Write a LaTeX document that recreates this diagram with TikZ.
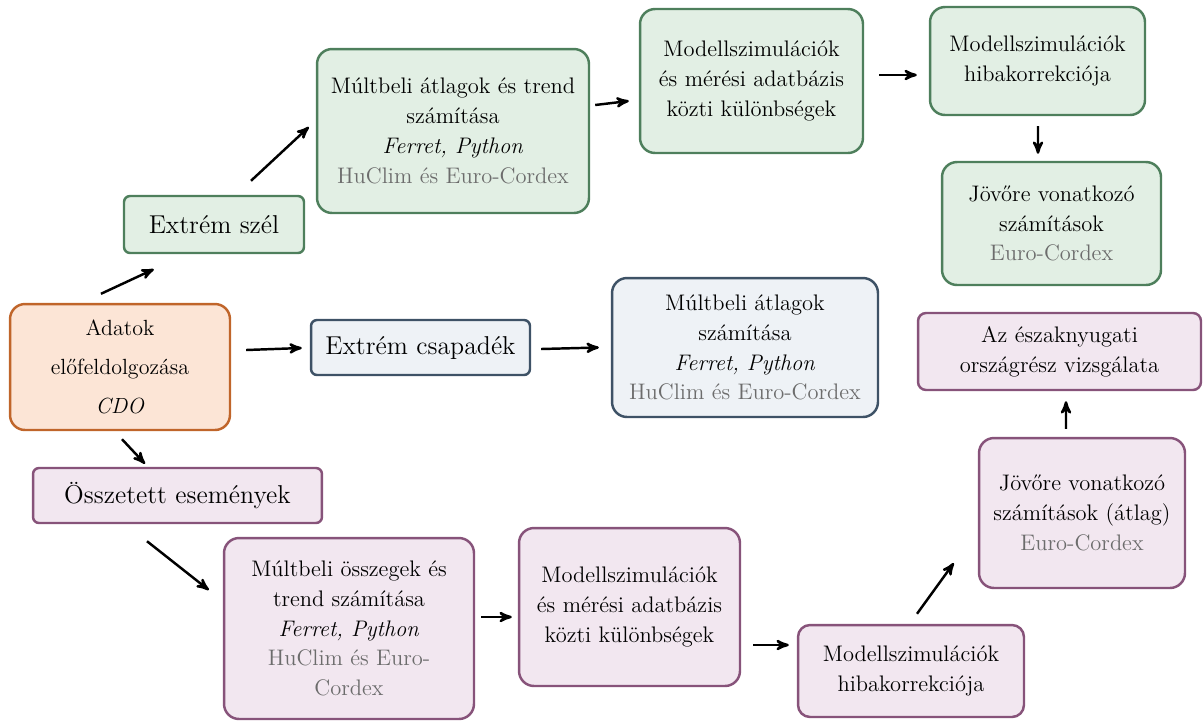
\documentclass[tikz,border=0pt]{standalone}
\usepackage{tikz}
\usetikzlibrary{positioning, arrows}
\definecolor{zoldkeret}{HTML}{4E7F5C}
\definecolor{zoldhatter}{HTML}{E2EFE4}
\definecolor{kekkeret}{HTML}{3E5266}
\definecolor{kekhatter}{HTML}{EEF2F6}
\definecolor{lilakeret}{HTML}{87537A}
\definecolor{lilahatter}{HTML}{F2E7F0}
\definecolor{narancskeret}{HTML}{C0652A}
\definecolor{narancshatter}{HTML}{FCE5D6}
\definecolor{szurke}{HTML}{6C6C6C}
\newcommand{\forras}[1]{\textcolor{szurke}{#1}}
\tikzset{
>=stealth', % makes the arrow heads bold
x=0.02cm, y=-0.02cm, % one unit is one pixel of the layout
box/.style={draw, line width=1.4pt, rounded corners=0.3cm, align=center, font=\fontsize{12.8}{17}\selectfont}, % every step of the workflow
kisbox/.style={box, rounded corners=0.12cm, font=\fontsize{14.7}{17}\selectfont}, % one-line boxes
zold/.style={draw=zoldkeret, fill=zoldhatter},
kek/.style={draw=kekkeret, fill=kekhatter},
lila/.style={draw=lilakeret, fill=lilahatter},
narancs/.style={draw=narancskeret, fill=narancshatter},
arr/.style={->, line width=1.4pt}, % the short black arrows
}
\begin{document}
\begin{tikzpicture}
        \useasboundingbox (0,0) rectangle (1203,721);

        \node[box, narancs, minimum width=4.4cm, minimum height=2.52cm, font=\fontsize{12.5}{22}\selectfont] (adat) at (120,367) {Adatok\\előfeldolgozása\\\textit{CDO}};

        % szel
        \node[kisbox, zold, minimum width=3.6cm, minimum height=1.14cm] (szel) at (214,224.5) {Extrém szél};
        \node[box, zold, minimum width=5.44cm, minimum height=3.28cm] (mult1) at (453,131) {Múltbeli átlagok és trend\\számítása\\\textit{Ferret, Python}\\\forras{HuClim és Euro-Cordex}};
        \node[box, zold, minimum width=4.46cm, minimum height=2.88cm] (diff1) at (751.5,81) {Modellszimulációk\\és mérési adatbázis\\közti különbségek};
        \node[box, zold, minimum width=4.3cm, minimum height=2.16cm] (hiba1) at (1037.5,61) {Modellszimulációk\\hibakorrekciója};
        \node[box, zold, minimum width=4.38cm, minimum height=2.46cm] (jovo1) at (1051.5,223.5) {Jövőre vonatkozó\\számítások\\\forras{Euro-Cordex}};

        % csapadek
        \node[kisbox, kek, minimum width=4.38cm, minimum height=1.1cm] (csap) at (420.5,347.5) {Extrém csapadék};
        \node[box, kek, minimum width=5.32cm, minimum height=2.78cm] (mult2) at (745,347.5) {Múltbeli átlagok\\számítása\\\textit{Ferret, Python}\\\forras{HuClim és Euro-Cordex}};

        % osszetett
        \node[kisbox, lila, minimum width=5.78cm, minimum height=1.1cm] (ossz) at (177.5,495.5) {Összetett események};
        \node[box, lila, minimum width=5cm, minimum height=3.62cm] (mult3) at (349,628.5) {Múltbeli összegek és\\trend számítása\\\textit{Ferret, Python}\\\forras{HuClim és Euro-}\\\forras{Cordex}};
        \node[box, lila, minimum width=4.42cm, minimum height=3.16cm] (diff2) at (629.5,607) {Modellszimulációk\\és mérési adatbázis\\közti különbségek};
        \node[box, lila, rounded corners=0.24cm, minimum width=4.52cm, minimum height=1.84cm] (hiba2) at (911,671) {Modellszimulációk\\hibakorrekciója};
        \node[box, lila, minimum width=4.12cm, minimum height=3cm] (jovo2) at (1082,513) {Jövőre vonatkozó\\számítások (átlag)\\\forras{Euro-Cordex}};
        \node[box, lila, rounded corners=0.16cm, minimum width=5.66cm, minimum height=1.54cm] (eszak) at (1059.5,351.5) {Az északnyugati\\országrész vizsgálata};

        \path[arr] ([shift={(-19,-9)}]adat.north) edge ([shift={(31,15)}]szel.south west)
        ([shift={(37,-14)}]szel.north) edge ([shift={(-7,-4)}]mult1.west)
        ([shift={(5,-26)}]mult1.east) edge ([shift={(-10,20)}]diff1.west)
        ([shift={(15,-6)}]diff1.east) edge ([shift={(-12,14)}]hiba1.west)
        ([shift={(0.5,10)}]hiba1.south) edge ([shift={(-13.5,-7)}]jovo1.north)
        ([shift={(15,-17)}]adat.east) edge ([shift={(-8,0.5)}]csap.west)
        ([shift={(10,1.5)}]csap.east) edge ([shift={(-12,0)}]mult2.west)
        ([shift={(2,8)}]adat.south) edge ([shift={(-32.5,-3)}]ossz.north)
        ([shift={(-30.5,17)}]ossz.south) edge ([shift={(-14,-38.5)}]mult3.west)
        ([shift={(6,-11.5)}]mult3.east) edge ([shift={(-6,10)}]diff2.west)
        ([shift={(12,38)}]diff2.east) edge ([shift={(-8,-26)}]hiba2.west)
        ([shift={(6,-10)}]hiba2.north) edge ([shift={(-24,50)}]jovo2.west)
        ([shift={(-16,-8)}]jovo2.north) edge ([shift={(6.5,10)}]eszak.south);
\end{tikzpicture}
\end{document}
